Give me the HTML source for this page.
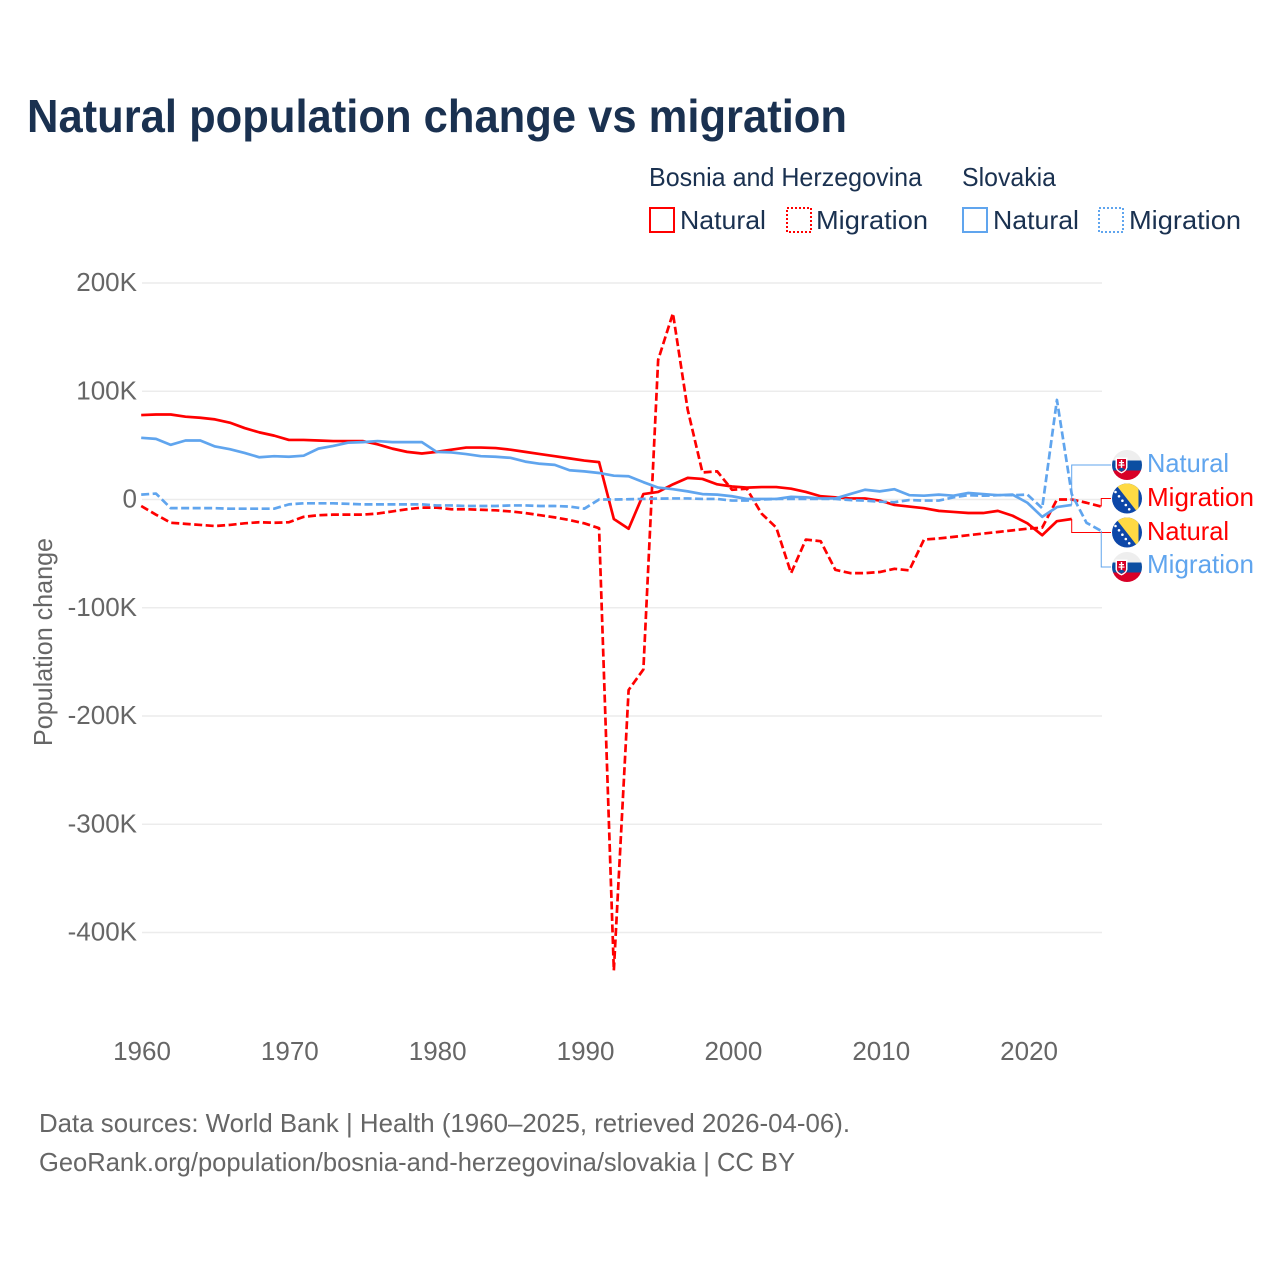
<!DOCTYPE html>
<html lang="en">
<head>
<meta charset="utf-8">
<title>Natural population change vs migration</title>
<style>
html,body{margin:0;padding:0;background:#fff;}
svg{display:block;}
text{font-family:"Liberation Sans","DejaVu Sans",sans-serif;}
</style>
</head>
<body>
<svg id="chart" xmlns="http://www.w3.org/2000/svg" width="1280" height="1280" viewBox="0 0 1280 1280">
<defs>
<clipPath id="flag-clip"><circle cx="0" cy="0" r="15"/></clipPath>
<g id="flag-sk">
<g clip-path="url(#flag-clip)">
<rect x="-15" y="-15" width="30" height="10.5" fill="#eeeeee"/>
<rect x="-15" y="-4.5" width="30" height="10" fill="#0b4ea2"/>
<rect x="-15" y="5.5" width="30" height="9.5" fill="#d80027"/>
<path d="M-11.5,-7.5 H0.5 V2.5 Q-0.5,6.5 -5.5,8.5 Q-10.5,6.5 -11.5,2.5 Z" fill="#ffffff"/>
<path d="M-10,-6 H-1 V2.5 Q-1.5,5.5 -5.5,7 Q-9.5,5.5 -10,2.5 Z" fill="#d80027"/>
<rect x="-6.2" y="-5" width="1.4" height="8" fill="#fff"/>
<rect x="-8" y="-3" width="5" height="1.2" fill="#fff"/>
<rect x="-8.5" y="-0.5" width="6" height="1.2" fill="#fff"/>
<path d="M-9,4.5 Q-5.5,1 -2,4.5 L-5.5,6.7 Z" fill="#0b4ea2"/>
</g>
</g>
<g id="flag-ba">
<g clip-path="url(#flag-clip)">
<rect x="-15" y="-15" width="30" height="30" fill="#0d47a8"/>
<path d="M-12,-15 H11.5 V15 Z" fill="#ffda44"/>
<g fill="#ffffff">
<circle cx="-11.5" cy="-6.5" r="1.3"/>
<circle cx="-8" cy="-2.2" r="1.3"/>
<circle cx="-4.6" cy="2.2" r="1.3"/>
<circle cx="-1.2" cy="6.5" r="1.3"/>
<circle cx="2.2" cy="10.8" r="1.3"/>
</g>
</g>
</g>
</defs>

<text x="27" y="132" font-size="46" font-weight="700" fill="#1a3150" textLength="820" lengthAdjust="spacingAndGlyphs">Natural population change vs migration</text>

<g font-size="26" fill="#1a3150">
<text x="649" y="186" textLength="273" lengthAdjust="spacingAndGlyphs">Bosnia and Herzegovina</text>
<text x="962" y="186" textLength="94" lengthAdjust="spacingAndGlyphs">Slovakia</text>
<rect x="650" y="208" width="24" height="24" fill="none" stroke="#ff0000" stroke-width="2"/>
<text x="680" y="229" textLength="86" lengthAdjust="spacingAndGlyphs">Natural</text>
<rect x="787" y="208" width="24" height="24" fill="none" stroke="#ff0000" stroke-width="2" stroke-dasharray="2,2"/>
<text x="816" y="229" textLength="112" lengthAdjust="spacingAndGlyphs">Migration</text>
<rect x="963" y="208" width="24" height="24" fill="none" stroke="#60a5ee" stroke-width="2"/>
<text x="993" y="229" textLength="86" lengthAdjust="spacingAndGlyphs">Natural</text>
<rect x="1099" y="208" width="24" height="24" fill="none" stroke="#60a5ee" stroke-width="2" stroke-dasharray="2,2"/>
<text x="1129" y="229" textLength="112" lengthAdjust="spacingAndGlyphs">Migration</text>
</g>

<g id="grid"></g>
<g id="yticks" font-size="26" fill="#666666" text-anchor="end"></g>
<g id="xticks" font-size="26" fill="#666666" text-anchor="middle"></g>
<text transform="translate(52,642) rotate(-90)" text-anchor="middle" font-size="26" fill="#666666" textLength="208" lengthAdjust="spacingAndGlyphs">Population change</text>

<g id="series"></g>
<g id="connectors"></g>

<g font-size="26">
<use href="#flag-sk" x="1127" y="465"/>
<text x="1147" y="472" fill="#60a5ee" textLength="82" lengthAdjust="spacingAndGlyphs">Natural</text>
<use href="#flag-ba" x="1127" y="498.5"/>
<text x="1147" y="506" fill="#ff0000" textLength="107" lengthAdjust="spacingAndGlyphs">Migration</text>
<use href="#flag-ba" x="1127" y="532.5"/>
<text x="1147" y="540" fill="#ff0000" textLength="82" lengthAdjust="spacingAndGlyphs">Natural</text>
<use href="#flag-sk" x="1127" y="567"/>
<text x="1147" y="573" fill="#60a5ee" textLength="107" lengthAdjust="spacingAndGlyphs">Migration</text>
</g>

<g font-size="26" fill="#666666">
<text x="39" y="1132" textLength="811" lengthAdjust="spacingAndGlyphs">Data sources: World Bank | Health (1960–2025, retrieved 2026-04-06).</text>
<text x="39" y="1171" textLength="756" lengthAdjust="spacingAndGlyphs">GeoRank.org/population/bosnia-and-herzegovina/slovakia | CC BY</text>
</g>
</svg>

<script>
var firstYear = 1960;
var yTicks = [200, 100, 0, -100, -200, -300, -400];
var yTickLabels = ['200K', '100K', '0', '-100K', '-200K', '-300K', '-400K'];
var xTicks = [1960, 1970, 1980, 1990, 2000, 2010, 2020];

// Values in thousands, one per year from 1960.
var bosniaNatural = [78,78.5,78.5,76.5,75.5,74,71,66,62,59,55,55,54.5,54,54,54,51,47,44,42.5,44,46,48,48,47.5,46,44,42,40,38,36,34.5,-18,-27,5,7,14,20,19,14,12,11,11.5,11.5,10,7,3,2,1,1,-1,-5,-6.5,-8,-10.5,-11.5,-12.5,-12.5,-10.5,-15,-22,-33,-20,-18];
var bosniaMigration = [-6,-14,-21.5,-22.5,-23.5,-24.5,-23.5,-22,-21,-21.5,-21,-16,-14.5,-14,-14,-14,-13,-11,-9,-7.5,-7.5,-9,-9,-9.5,-10,-11,-12.5,-14.5,-16.5,-19,-22,-26.5,-435,-176,-157,129,172,83,25,26,9,10,-13,-26,-68,-37,-38.5,-65,-68,-68,-67,-64,-65.5,-37,-36,-34.5,-33,-31.5,-30,-28.5,-27,-26,0,0,-3,-6.5];
var slovakiaNatural = [57,56,50.5,54.5,54.5,49,46.5,43,39,40,39.5,40.5,47,49.5,52.5,53,54,53,53,53,44,43.5,42,40,39.5,38.5,35,33,32,27,26,24.5,22,21.5,16,11,9.5,7.5,5,4.5,3,0.5,0.5,0.5,2.5,2,1,1,5,9,7.5,9.5,4,3.5,4.5,3.5,6,5,4,4.5,-3,-16,-7,-5];
var slovakiaMigration = [4.5,5.5,-8,-8,-8,-8,-8.5,-8.5,-8.5,-8.5,-4.5,-3.5,-3.5,-3.5,-4,-4.5,-4.5,-4.5,-4.5,-4.5,-5.5,-5.5,-6,-6,-6,-5.5,-5.5,-6,-6,-6.5,-8.5,0,0,0.2,0.5,0.8,1,1,0.5,0.5,-1,-1,0,0.5,0.5,0.5,0.5,0.5,-0.5,-1,-2,-2.5,-0.5,-1,-1,2,4,3.5,4,4,4.5,-8,92,5,-21.5,-29];

var NS = 'http://www.w3.org/2000/svg';
var RED = '#ff0000';
var BLUE = '#60a5ee';

function xScale(year) { return 141.2 + (year - 1960) * 14.77; }
function yScale(v) { return 499.5 - v * 1.0825; }
function tickX(year) { return 142 + (year - 1960) * 14.785; }

function pointsFor(values) {
  return values.map(function (v, i) {
    return xScale(firstYear + i).toFixed(2) + ',' + yScale(v).toFixed(2);
  }).join(' ');
}

var grid = document.getElementById('grid');
var yt = document.getElementById('yticks');
yTicks.forEach(function (t, i) {
  var l = document.createElementNS(NS, 'line');
  
  
  l.setAttribute('x1', 142);
  l.setAttribute('x2', 1102);
  l.setAttribute('y1', yScale(t));
  l.setAttribute('y2', yScale(t));
  l.setAttribute('stroke', '#ececec');
  l.setAttribute('stroke-width', '1.5');
  grid.appendChild(l);
  var s = document.createElementNS(NS, 'text');
  
  
  s.setAttribute('x', 137);
  s.setAttribute('y', yScale(t) + 8);
  s.textContent = yTickLabels[i];
  yt.appendChild(s);
});

var xt = document.getElementById('xticks');
xTicks.forEach(function (t) {
  var s = document.createElementNS(NS, 'text');
  
  
  s.setAttribute('x', tickX(t));
  s.setAttribute('y', 1060);
  s.textContent = String(t);
  xt.appendChild(s);
});

var seriesGroup = document.getElementById('series');
function addSeries(name, values, color, dashed) {
  var p = document.createElementNS(NS, 'polyline');
  
  
  p.setAttribute('points', pointsFor(values));
  p.setAttribute('fill', 'none');
  p.setAttribute('stroke', color);
  p.setAttribute('stroke-width', '2.7');
  p.setAttribute('stroke-linejoin', 'round');
  if (dashed) { p.setAttribute('stroke-dasharray', '8,3.5'); }
  seriesGroup.appendChild(p);
}
addSeries('line-bosnia-natural', bosniaNatural, RED, false);
addSeries('line-bosnia-migration', bosniaMigration, RED, true);
addSeries('line-slovakia-natural', slovakiaNatural, BLUE, false);
addSeries('line-slovakia-migration', slovakiaMigration, BLUE, true);

var connectors = document.getElementById('connectors');
function addConnector(name, values, color, labelY) {
  var last = values.length - 1;
  var ex = xScale(firstYear + last);
  var ey = yScale(values[last]);
  var c = document.createElementNS(NS, 'polyline');
  
  
  c.setAttribute('points', ex + ',' + ey + ' ' + ex + ',' + labelY + ' 1111,' + labelY);
  c.setAttribute('fill', 'none');
  c.setAttribute('stroke', color);
  c.setAttribute('stroke-width', '1');
  connectors.appendChild(c);
}
addConnector('connector-slovakia-natural', slovakiaNatural, BLUE, 465);
addConnector('connector-bosnia-migration', bosniaMigration, RED, 498.5);
addConnector('connector-bosnia-natural', bosniaNatural, RED, 532.5);
addConnector('connector-slovakia-migration', slovakiaMigration, BLUE, 567);
</script>
</body>
</html>
